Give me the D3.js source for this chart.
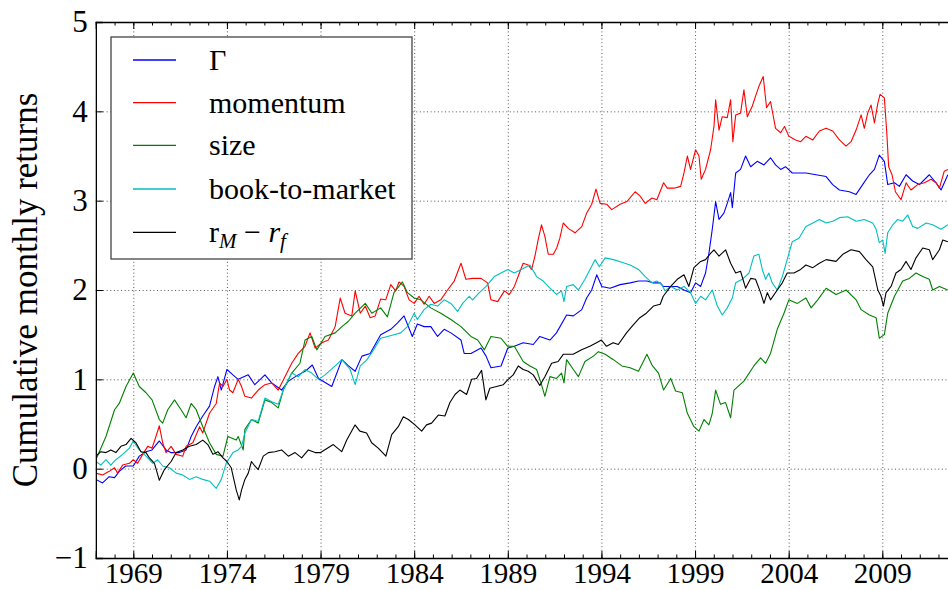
<!DOCTYPE html>
<html>
<head>
<meta charset="utf-8">
<script src="https://cdn.jsdelivr.net/npm/d3@7"></script>
<style>
  body { margin: 0; background: #fff; }
  svg { display: block; }
</style>
</head>
<body>
<svg id="chart" width="948" height="590"></svg>
<script>
// readings: year (decimal) and cumulative return
const gammaYears = [
  1967.0, 1967.36, 1967.71, 1968.0, 1968.25, 1968.6, 1969.0, 1969.32, 1969.68, 1970.0,
  1970.39, 1970.75, 1971.0, 1971.46, 1971.82, 1972.09, 1972.36, 1972.71, 1973.07, 1973.34,
  1973.52, 1973.7, 1974.0, 1974.32, 1974.6, 1975.14, 1975.49, 1976.03, 1976.39, 1976.92,
  1977.28, 1977.81, 1978.17, 1978.56, 1978.89, 1979.6, 1980.14, 1980.49, 1980.85, 1981.21,
  1981.65, 1982.21, 1982.75, 1983.1, 1983.46, 1983.9, 1984.17, 1984.53, 1984.89, 1985.25,
  1985.6, 1985.96, 1986.5, 1986.67, 1987.03, 1987.57, 1987.84, 1988.1, 1988.64, 1989.0,
  1989.35, 1989.82, 1990.36, 1990.71, 1991.25, 1991.6, 1992.14, 1992.5, 1992.95, 1993.21,
  1993.48, 1993.75, 1994.02, 1994.46, 1995.0, 1995.53, 1995.98, 1996.43, 1996.78, 1997.14,
  1997.3, 1997.7, 1998.05, 1998.41, 1998.76, 1999.03, 1999.3, 1999.56, 1999.74, 1999.92,
  2000.1, 2000.28, 2000.54, 2000.72, 2000.9, 2000.99, 2001.17, 2001.43, 2001.7, 2001.97,
  2002.32, 2002.68, 2003.03, 2003.3, 2003.57, 2003.83, 2004.19, 2004.92, 2005.46, 2006.0,
  2006.35, 2006.71, 2007.24, 2007.6, 2007.95, 2008.31, 2008.58, 2008.84, 2009.11, 2009.29,
  2009.65, 2009.91, 2010.27, 2010.62, 2010.98, 2011.51, 2011.87, 2012.14, 2012.5
];
const gammaValues = [
  -0.12, -0.16, -0.09, -0.10, -0.03, 0.03, 0.03, 0.14, 0.19, 0.21,
  0.31, 0.21, 0.18, 0.18, 0.21, 0.36, 0.47, 0.59, 0.70, 0.92,
  1.03, 0.88, 1.11, 1.05, 1.00, 1.05, 0.94, 1.05, 0.96, 0.88,
  0.98, 1.05, 1.09, 1.16, 1.01, 0.92, 1.22, 1.15, 1.09, 1.26,
  1.29, 1.50, 1.56, 1.63, 1.71, 1.48, 1.62, 1.59, 1.59, 1.48,
  1.56, 1.52, 1.44, 1.29, 1.29, 1.35, 1.26, 1.13, 1.15, 1.35,
  1.37, 1.41, 1.39, 1.48, 1.44, 1.52, 1.72, 1.71, 1.78, 1.91,
  2.00, 2.17, 2.04, 2.02, 2.06, 2.08, 2.10, 2.10, 2.08, 2.08,
  2.04, 2.04, 2.04, 2.00, 1.97, 2.08, 2.04, 2.19, 2.41, 2.68,
  2.99, 2.79, 2.86, 2.97, 3.09, 2.92, 3.31, 3.35, 3.50, 3.38,
  3.44, 3.40, 3.48, 3.40, 3.35, 3.38, 3.31, 3.31, 3.29, 3.27,
  3.18, 3.12, 3.10, 3.07, 3.18, 3.29, 3.35, 3.51, 3.44, 3.18,
  3.20, 3.16, 3.29, 3.22, 3.18, 3.29, 3.20, 3.12, 3.29
];

const momentumYears = [
  1967.0, 1967.36, 1967.71, 1968.0, 1968.16, 1968.43, 1968.79, 1969.0, 1969.23, 1969.5,
  1969.77, 1970.0, 1970.21, 1970.39, 1970.57, 1970.75, 1971.02, 1971.29, 1971.64, 1971.82,
  1972.18, 1972.54, 1972.71, 1973.07, 1973.43, 1973.61, 1973.79, 1974.0, 1974.14, 1974.32,
  1974.6, 1974.78, 1974.96, 1975.31, 1975.67, 1976.03, 1976.39, 1976.74, 1977.1, 1977.46,
  1977.81, 1978.17, 1978.44, 1978.71, 1979.07, 1979.42, 1979.78, 1980.05, 1980.31, 1980.67,
  1980.85, 1981.12, 1981.39, 1981.65, 1981.92, 1982.21, 1982.48, 1982.75, 1983.01, 1983.19,
  1983.46, 1983.73, 1984.0, 1984.26, 1984.53, 1984.8, 1985.07, 1985.42, 1985.78, 1986.14,
  1986.5, 1986.76, 1987.12, 1987.57, 1987.92, 1988.1, 1988.46, 1988.82, 1989.08, 1989.35,
  1989.62, 1989.82, 1990.09, 1990.27, 1990.45, 1990.62, 1990.8, 1990.98, 1991.16, 1991.43,
  1991.61, 1991.78, 1991.96, 1992.23, 1992.59, 1992.95, 1993.21, 1993.48, 1993.71, 1993.93,
  1994.28, 1994.55, 1995.0, 1995.36, 1995.8, 1996.07, 1996.34, 1996.7, 1996.96, 1997.32,
  1997.52, 1997.87, 1998.23, 1998.41, 1998.59, 1998.76, 1999.03, 1999.21, 1999.33, 1999.56,
  1999.83, 2000.01, 2000.1, 2000.28, 2000.45, 2000.72, 2000.9, 2001.02, 2001.17, 2001.43,
  2001.61, 2001.79, 2002.06, 2002.23, 2002.41, 2002.64, 2002.82, 2003.03, 2003.3, 2003.57,
  2003.78, 2004.01, 2004.37, 2004.64, 2004.92, 2005.29, 2005.64, 2006.0, 2006.35, 2006.71,
  2007.06, 2007.33, 2007.6, 2007.87, 2008.04, 2008.22, 2008.4, 2008.58, 2008.76, 2008.88,
  2009.11, 2009.24, 2009.34, 2009.52, 2009.7, 2010.0, 2010.27, 2010.53, 2010.89, 2011.25,
  2011.6, 2011.87, 2012.05, 2012.31, 2012.5
];
const momentumValues = [
  -0.05, -0.07, -0.03, 0.01, -0.05, 0.04, 0.06, 0.10, 0.06, 0.16,
  0.25, 0.23, 0.36, 0.48, 0.29, 0.18, 0.25, 0.16, 0.14, 0.25,
  0.29, 0.47, 0.40, 0.62, 0.73, 0.96, 0.92, 1.00, 0.88, 0.85,
  1.00, 0.92, 0.81, 0.79, 0.88, 0.94, 0.96, 0.88, 1.03, 1.18,
  1.29, 1.37, 1.52, 1.35, 1.41, 1.44, 1.59, 1.91, 1.74, 1.71,
  1.99, 1.74, 1.82, 1.69, 1.71, 1.90, 1.89, 2.06, 1.99, 2.09,
  2.04, 1.89, 1.85, 1.93, 1.84, 1.93, 1.85, 1.89, 2.00, 2.10,
  2.30, 2.12, 2.13, 2.13, 2.08, 1.89, 1.87, 1.99, 1.95, 2.04,
  2.19, 2.30, 2.28, 2.23, 2.38, 2.56, 2.73, 2.60, 2.40, 2.40,
  2.47, 2.58, 2.75, 2.69, 2.64, 2.71, 2.86, 2.96, 3.13, 2.97,
  2.96, 2.90, 2.96, 2.99, 3.10, 3.05, 2.97, 3.03, 3.01, 3.20,
  3.14, 3.14, 3.16, 3.31, 3.50, 3.35, 3.57, 3.50, 3.24, 3.35,
  3.57, 3.83, 4.13, 3.79, 3.94, 3.93, 4.13, 3.66, 3.96, 3.98,
  4.24, 3.94, 4.06, 4.17, 4.28, 4.39, 4.04, 4.11, 3.81, 3.76,
  3.83, 3.72, 3.68, 3.66, 3.72, 3.68, 3.78, 3.81, 3.78, 3.68,
  3.61, 3.66, 3.79, 3.96, 3.81, 3.98, 4.07, 3.87, 4.09, 4.19,
  4.15, 3.76, 3.38, 3.29, 3.10, 3.01, 3.20, 3.12, 3.18, 3.20,
  3.24, 3.20, 3.14, 3.33, 3.35
];

const sizeYears = [
  1967.0, 1967.54, 1968.0, 1968.25, 1968.61, 1969.0, 1969.32, 1969.68, 1970.0, 1970.39,
  1970.57, 1970.84, 1971.2, 1971.55, 1971.82, 1972.09, 1972.36, 1972.71, 1973.07, 1973.43,
  1973.79, 1974.05, 1974.5, 1974.6, 1974.87, 1974.96, 1975.31, 1975.67, 1976.03, 1976.39,
  1976.74, 1977.01, 1977.46, 1977.9, 1978.17, 1978.53, 1978.8, 1979.24, 1979.78, 1980.14,
  1980.49, 1980.85, 1981.39, 1981.74, 1982.21, 1982.57, 1982.92, 1983.37, 1983.64, 1984.0,
  1984.35, 1984.89, 1985.42, 1985.96, 1986.5, 1987.03, 1987.39, 1987.75, 1988.1, 1988.64,
  1988.99, 1989.35, 1989.82, 1990.18, 1990.54, 1990.8, 1990.98, 1991.25, 1991.6, 1991.87,
  1992.0, 1992.14, 1992.5, 1992.77, 1993.12, 1993.57, 1993.84, 1994.2, 1994.64, 1995.09,
  1995.53, 1995.98, 1996.43, 1996.7, 1997.05, 1997.32, 1997.7, 1997.96, 1998.32, 1998.59,
  1998.94, 1999.21, 1999.48, 1999.74, 1999.92, 2000.1, 2000.36, 2000.63, 2000.9, 2001.08,
  2001.61, 2002.14, 2002.5, 2002.77, 2003.03, 2003.39, 2003.75, 2004.01, 2004.46, 2004.92,
  2005.2, 2005.55, 2006.0, 2006.53, 2007.07, 2007.6, 2007.87, 2008.31, 2008.67, 2008.84,
  2009.11, 2009.29, 2009.65, 2010.09, 2010.44, 2010.8, 2011.16, 2011.51, 2011.69, 2012.05,
  2012.5
];
const sizeValues = [
  0.10, 0.36, 0.66, 0.73, 0.92, 1.07, 0.92, 0.85, 0.77, 0.55,
  0.51, 0.66, 0.77, 0.66, 0.57, 0.73, 0.66, 0.47, 0.29, 0.16,
  0.14, 0.36, 0.32, 0.36, 0.21, 0.44, 0.55, 0.51, 0.77, 0.74,
  0.68, 0.88, 1.07, 1.18, 1.44, 1.48, 1.33, 1.48, 1.52, 1.59,
  1.65, 1.74, 1.85, 1.74, 1.80, 1.70, 1.97, 2.09, 1.97, 1.91,
  1.89, 1.80, 1.74, 1.67, 1.59, 1.48, 1.44, 1.33, 1.48, 1.46,
  1.37, 1.37, 1.20, 1.15, 1.11, 0.94, 0.81, 1.03, 1.01, 1.07,
  0.96, 1.22, 1.11, 1.03, 1.20, 1.26, 1.31, 1.28, 1.22, 1.15,
  1.13, 1.09, 1.28, 1.16, 1.07, 0.88, 1.01, 0.87, 0.85, 0.62,
  0.47, 0.42, 0.55, 0.49, 0.62, 0.88, 0.72, 0.74, 0.57, 0.88,
  0.98, 1.15, 1.24, 1.18, 1.29, 1.56, 1.74, 1.89, 1.85, 1.91,
  1.80, 1.89, 2.02, 1.95, 2.00, 1.89, 1.78, 1.72, 1.69, 1.46,
  1.50, 1.74, 1.93, 2.10, 2.13, 2.19, 2.15, 2.12, 2.00, 2.04,
  2.00
];

const btmYears = [
  1967.0, 1967.27, 1967.54, 1967.8, 1968.07, 1968.43, 1968.79, 1969.0, 1969.32, 1969.68,
  1970.04, 1970.3, 1970.57, 1970.93, 1971.29, 1971.64, 1972.0, 1972.36, 1972.71, 1973.07,
  1973.43, 1973.7, 1973.96, 1974.32, 1974.6, 1974.78, 1974.96, 1975.31, 1975.67, 1976.03,
  1976.39, 1976.74, 1977.01, 1977.46, 1977.81, 1978.17, 1978.53, 1978.89, 1979.24, 1979.78,
  1980.14, 1980.58, 1980.85, 1981.12, 1981.48, 1981.83, 1982.21, 1982.57, 1982.92, 1983.28,
  1983.64, 1984.0, 1984.17, 1984.53, 1984.89, 1985.25, 1985.6, 1985.96, 1986.32, 1986.59,
  1986.94, 1987.12, 1987.48, 1987.84, 1988.28, 1988.64, 1989.0, 1989.35, 1989.82, 1990.18,
  1990.54, 1990.89, 1991.25, 1991.6, 1991.87, 1992.0, 1992.14, 1992.5, 1992.77, 1993.12,
  1993.39, 1993.66, 1993.89, 1994.2, 1994.64, 1995.09, 1995.53, 1995.98, 1996.34, 1996.7,
  1996.96, 1997.23, 1997.4, 1997.7, 1998.05, 1998.41, 1998.76, 1999.03, 1999.3, 1999.56,
  1999.92, 2000.19, 2000.45, 2000.72, 2000.99, 2001.17, 2001.52, 2001.88, 2002.14, 2002.41,
  2002.59, 2002.77, 2002.94, 2003.12, 2003.39, 2003.66, 2003.92, 2004.19, 2004.55, 2004.92,
  2005.29, 2005.64, 2006.0, 2006.35, 2006.71, 2007.15, 2007.6, 2008.04, 2008.49, 2008.67,
  2008.84, 2009.02, 2009.15, 2009.29, 2009.56, 2009.82, 2010.09, 2010.36, 2010.62, 2010.89,
  2011.34, 2011.69, 2012.14, 2012.5
];
const btmValues = [
  0.08, 0.04, 0.10, 0.04, 0.10, 0.16, 0.23, 0.31, 0.21, 0.14,
  0.06, 0.10, 0.03, 0.01, -0.05, -0.07, -0.12, -0.09, -0.12, -0.14,
  -0.22, -0.12, 0.06, 0.18, 0.21, 0.25, 0.40, 0.55, 0.53, 0.79,
  0.75, 0.72, 0.88, 1.07, 1.03, 1.11, 1.07, 1.00, 1.05, 1.15,
  1.22, 1.11, 0.94, 1.15, 1.22, 1.33, 1.46, 1.48, 1.50, 1.52,
  1.59, 1.74, 1.67, 1.78, 1.84, 1.82, 1.89, 1.85, 1.76, 1.85,
  1.93, 1.89, 1.97, 2.04, 2.15, 2.19, 2.23, 2.19, 2.24, 2.28,
  2.15, 2.10, 2.02, 1.95, 1.99, 1.87, 2.04, 2.06, 2.00, 2.12,
  2.23, 2.34, 2.26, 2.36, 2.34, 2.31, 2.28, 2.23, 2.15, 2.08,
  2.10, 2.06, 1.99, 2.04, 2.00, 2.04, 1.97, 1.85, 1.93, 1.89,
  2.00, 1.82, 1.72, 1.80, 1.91, 2.08, 2.12, 2.19, 2.38, 2.40,
  2.23, 2.12, 2.19, 2.08, 2.00, 2.15, 2.34, 2.54, 2.58, 2.71,
  2.75, 2.79, 2.75, 2.77, 2.81, 2.82, 2.77, 2.79, 2.75, 2.68,
  2.53, 2.56, 2.41, 2.64, 2.73, 2.79, 2.77, 2.84, 2.71, 2.69,
  2.75, 2.73, 2.68, 2.73
];

const marketYears = [
  1967.0, 1967.27, 1967.54, 1967.8, 1968.07, 1968.34, 1968.61, 1968.88, 1969.14, 1969.41,
  1969.68, 1969.86, 1970.13, 1970.39, 1970.66, 1971.02, 1971.29, 1971.64, 1972.0, 1972.36,
  1972.71, 1972.98, 1973.25, 1973.52, 1973.79, 1974.0, 1974.23, 1974.5, 1974.66, 1974.78,
  1974.96, 1975.14, 1975.31, 1975.49, 1975.67, 1975.94, 1976.21, 1976.56, 1976.92, 1977.28,
  1977.64, 1977.99, 1978.35, 1978.71, 1979.0, 1979.68, 1980.13, 1980.4, 1980.84, 1981.1,
  1981.46, 1981.73, 1982.08, 1982.49, 1982.8, 1983.15, 1983.42, 1983.69, 1984.04, 1984.4,
  1984.66, 1984.93, 1985.29, 1985.64, 1985.91, 1986.18, 1986.44, 1986.8, 1987.07, 1987.33,
  1987.6, 1987.83, 1988.04, 1988.4, 1988.76, 1989.02, 1989.29, 1989.56, 1989.82, 1990.09,
  1990.36, 1990.71, 1990.98, 1991.34, 1991.69, 1991.96, 1992.49, 1992.94, 1993.38, 1993.74,
  1994.0, 1994.27, 1994.63, 1994.9, 1995.34, 1995.7, 1996.05, 1996.4, 1996.78, 1997.14,
  1997.3, 1997.7, 1998.05, 1998.41, 1998.67, 1998.94, 1999.3, 1999.56, 1999.83, 2000.01,
  2000.28, 2000.63, 2000.9, 2001.17, 2001.43, 2001.7, 2001.97, 2002.23, 2002.5, 2002.68,
  2002.86, 2003.03, 2003.39, 2003.66, 2003.92, 2004.28, 2004.64, 2004.92, 2005.29, 2005.64,
  2006.0, 2006.53, 2006.89, 2007.33, 2007.78, 2008.13, 2008.49, 2008.76, 2008.93, 2009.06,
  2009.2, 2009.47, 2009.73, 2010.0, 2010.27, 2010.53, 2010.8, 2011.16, 2011.51, 2011.69,
  2012.05, 2012.23, 2012.5
];
const marketValues = [
  0.14, 0.19, 0.18, 0.21, 0.18, 0.25, 0.27, 0.34, 0.29, 0.19,
  0.18, 0.12, 0.06, -0.13, -0.01, 0.08, 0.18, 0.21, 0.25, 0.27,
  0.32, 0.27, 0.16, 0.19, 0.12, 0.08, 0.01, -0.24, -0.35, -0.24,
  -0.12, -0.05, 0.08, 0.03, -0.01, 0.14, 0.18, 0.19, 0.21, 0.14,
  0.18, 0.12, 0.21, 0.18, 0.18, 0.27, 0.19, 0.32, 0.49, 0.42,
  0.40, 0.29, 0.23, 0.14, 0.38, 0.47, 0.58, 0.55, 0.49, 0.42,
  0.49, 0.51, 0.60, 0.59, 0.74, 0.83, 0.88, 0.83, 1.00, 1.01,
  1.10, 0.77, 0.90, 0.92, 0.94, 1.00, 1.05, 1.15, 1.11, 1.09,
  1.05, 0.93, 1.03, 1.18, 1.20, 1.28, 1.28, 1.33, 1.37, 1.41,
  1.44, 1.37, 1.41, 1.39, 1.52, 1.61, 1.69, 1.74, 1.82, 1.84,
  1.93, 2.04, 2.12, 2.17, 2.04, 2.25, 2.32, 2.34, 2.41, 2.45,
  2.38, 2.45, 2.30, 2.19, 2.21, 2.02, 2.13, 2.12, 1.97, 1.85,
  1.97, 1.89, 2.00, 2.08, 2.19, 2.19, 2.23, 2.28, 2.25, 2.30,
  2.34, 2.32, 2.40, 2.45, 2.43, 2.34, 2.26, 2.00, 1.93, 1.82,
  1.97, 2.04, 2.19, 2.23, 2.32, 2.23, 2.36, 2.47, 2.45, 2.34,
  2.45, 2.56, 2.54
];

const xTicks = [1969, 1974, 1979, 1984, 1989, 1994, 1999, 2004, 2009];
const yTicks = [-1, 0, 1, 2, 3, 4, 5];

const seriesList = [
  { key: 'gamma', years: gammaYears, values: gammaValues, color: '#0000ff' },
  { key: 'momentum', years: momentumYears, values: momentumValues, color: '#ff0000' },
  { key: 'size', years: sizeYears, values: sizeValues, color: '#008000' },
  { key: 'btm', years: btmYears, values: btmValues, color: '#00bfbf' },
  { key: 'market', years: marketYears, values: marketValues, color: '#000000' }
];

const FONT = '"Liberation Serif", "DejaVu Serif", "Liberation Sans", sans-serif';

const svg = d3.select('#chart').attr('font-family', FONT);
const plotL = 95.85, plotT = 22, plotB = 558;
const plotR = 957.2; // axes run past the picture edge

const x = d3.scaleLinear().domain([1967, 2013]).range([plotL, plotR]);
const y = d3.scaleLinear().domain([-1, 5]).range([plotB, plotT]);

svg.append('defs').append('clipPath').attr('id', 'plot-clip')
  .append('rect').attr('x', plotL).attr('y', plotT)
  .attr('width', plotR - plotL).attr('height', plotB - plotT);

// dotted grid
const grid = svg.append('g').attr('class', 'grid');
grid.append('g').attr('transform', `translate(0,${plotB})`)
  .call(d3.axisBottom(x).tickValues(xTicks).tickSize(-(plotB - plotT)).tickFormat(''));
grid.append('g').attr('transform', `translate(${plotL},0)`)
  .call(d3.axisLeft(y).tickValues(yTicks).tickSize(-(plotR - plotL)).tickFormat(''));
grid.selectAll('.domain').remove();
grid.selectAll('line')
  .attr('stroke', '#000').attr('stroke-width', 0.9)
  .attr('stroke-dasharray', '1,2.6').attr('opacity', 0.75);

// series lines
svg.append('g').attr('clip-path', 'url(#plot-clip)')
  .selectAll('path').data(seriesList).join('path')
  .attr('d', s => d3.line().x((d, i) => x(s.years[i])).y(d => y(d))(s.values))
  .attr('fill', 'none')
  .attr('stroke', d => d.color)
  .attr('stroke-width', 1.1)
  .attr('stroke-linejoin', 'round');

// axes with inward ticks
const minorYears = d3.range(1967, 2013);
const fmtY = d => d < 0 ? '\u2212' + Math.abs(d) : String(d);

const xAxis = svg.append('g').attr('transform', `translate(0,${plotB})`)
  .call(d3.axisBottom(x).tickValues(xTicks).tickSize(-7).tickPadding(4).tickFormat(d3.format('d')));
svg.append('g').attr('transform', `translate(0,${plotB})`)
  .call(d3.axisBottom(x).tickValues(minorYears).tickSize(-3.5).tickFormat(''))
  .select('.domain').remove();
svg.append('g').attr('transform', `translate(0,${plotT})`)
  .call(d3.axisTop(x).tickValues(xTicks).tickSize(-7).tickFormat(''));
svg.append('g').attr('transform', `translate(0,${plotT})`)
  .call(d3.axisTop(x).tickValues(minorYears).tickSize(-3.5).tickFormat(''))
  .select('.domain').remove();
const yAxis = svg.append('g').attr('transform', `translate(${plotL},0)`)
  .call(d3.axisLeft(y).tickValues(yTicks).tickSize(-7).tickPadding(8).tickFormat(fmtY));

svg.selectAll('g').attr('font-family', FONT);
svg.selectAll('.domain').attr('stroke', '#000').attr('stroke-width', 1.3);
svg.selectAll('.tick line').filter(function () { return !this.closest('.grid'); })
  .attr('stroke', '#000').attr('stroke-width', 1);

xAxis.selectAll('text').attr('font-size', 29);
yAxis.selectAll('text').attr('font-size', 31);

// y label
svg.append('text')
  .attr('transform', `translate(37,${(plotT + plotB) / 2}) rotate(-90)`)
  .attr('text-anchor', 'middle')
  .attr('font-family', FONT)
  .attr('font-size', 35)
  .text('Cumulative monthly returns');

// legend
const legend = svg.append('g').attr('font-family', FONT);
legend.append('rect')
  .attr('x', 111).attr('y', 37).attr('width', 301).attr('height', 222)
  .attr('fill', '#fff').attr('stroke', '#444').attr('stroke-width', 1.3);

const legendRows = [60, 102.7, 145.3, 189, 232.3];
const legendItems = legend.selectAll('g.item').data(seriesList).join('g')
  .attr('class', 'item')
  .attr('transform', (d, i) => `translate(0,${legendRows[i]})`);
legendItems.append('line')
  .attr('x1', 133).attr('x2', 176)
  .attr('stroke', d => d.color).attr('stroke-width', 1.3);

const labels = legendItems.append('text')
  .attr('x', 209).attr('dy', '0.33em')
  .attr('font-family', FONT).attr('font-size', 30);
labels.filter(d => d.key === 'gamma').text('\u0393');
labels.filter(d => d.key === 'momentum').text('momentum');
labels.filter(d => d.key === 'size').text('size');
labels.filter(d => d.key === 'btm').text('book-to-market');
const mkt = labels.filter(d => d.key === 'market');
mkt.append('tspan').text('r');
mkt.append('tspan').attr('font-style', 'italic').attr('font-size', 21).attr('dy', 6).text('M');
mkt.append('tspan').attr('dy', -6).text(' \u2212 ');
mkt.append('tspan').attr('font-style', 'italic').text('r');
mkt.append('tspan').attr('font-style', 'italic').attr('font-size', 21).attr('dy', 6).text('f');
</script>
</body>
</html>
